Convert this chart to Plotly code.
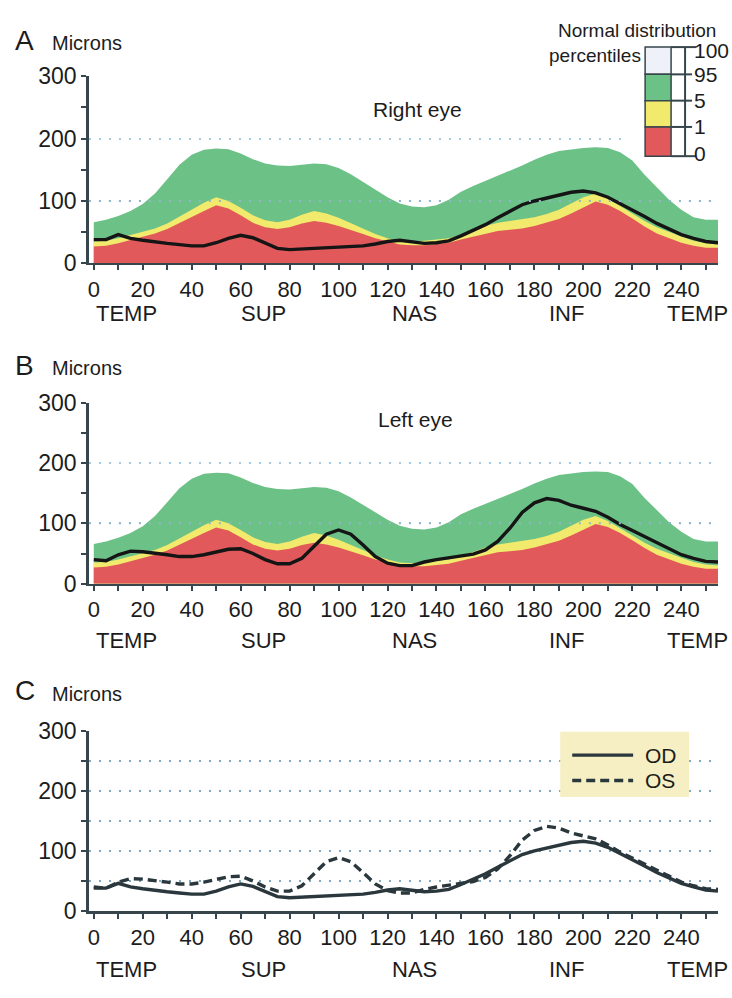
import plotly.graph_objects as go

W, H = 732, 998

# ---- data ----
x_deg = list(range(0, 256, 5))
p95 = [66, 70, 76, 84, 95, 112, 135, 158, 174, 182,
       184, 183, 176, 167, 160, 157, 156, 158, 160, 159,
       153, 143, 131, 118, 106, 96, 91, 90, 93, 102,
       115, 124, 132, 140, 148, 157, 166, 174, 180, 183,
       185, 186, 185, 178, 165, 142, 122, 102, 86, 74,
       70, 70]
p5 = [35, 36, 40, 45, 50, 56, 64, 75, 85, 97,
      106, 100, 89, 77, 69, 66, 70, 78, 84, 80,
      73, 64, 55, 47, 40, 35, 34, 36, 37, 40,
      45, 53, 60, 65, 68, 70, 74, 79, 86, 96,
      106, 112, 104, 92, 80, 68, 58, 50, 43, 36,
      32, 30]
p1 = [27, 28, 32, 37, 42, 48, 55, 65, 74, 84,
      93, 88, 77, 65, 58, 55, 58, 64, 68, 65,
      60, 54, 47, 40, 35, 30, 29, 29, 31, 33,
      38, 43, 48, 52, 54, 56, 60, 65, 71, 80,
      90, 99, 94, 84, 72, 59, 48, 40, 33, 28,
      25, 25]
od = [38, 38, 46, 40, 37, 34, 32, 30, 28, 28,
      33, 40, 45, 41, 32, 24, 22, 23, 25, 26,
      27, 28, 28, 31, 35, 37, 34, 32, 33, 36,
      44, 53, 62, 73, 84, 94, 100, 105, 110, 114,
      116, 113, 106, 96, 85, 75, 64, 55, 46, 40,
      35, 33]
os_ = [40, 38, 48, 54, 53, 51, 48, 45, 45, 48,
       53, 57, 58, 50, 40, 33, 33, 42, 62, 82,
       89, 82, 64, 45, 34, 30, 30, 36, 40, 43,
       46, 49, 56, 70, 92, 118, 134, 141, 138, 130,
       125, 120, 110, 98, 88, 78, 67, 57, 48, 42,
       37, 36]
sector_labels = ["TEMP", "SUP", "NAS", "INF", "TEMP"]
sector_pos = [13.5, 69.5, 131, 193, 246.5]
pct_labels = ["100", "95", "5", "1", "0"]
panel_titles = ["Right eye", "Left eye"]
legend_names = ["OD", "OS"]

GREEN = "#6cc187"
YELLOW = "#f2ea6c"
RED = "#e2595b"
AX = "#36464c"
TXT = "#1c1c1c"
GRID_AB = "#a9c9dc"
GRID_C = "#7fa9bf"
FONT = "Liberation Sans, Arial, sans-serif"


def px(x):
    return x / W


def py(y):
    return 1 - y / H


fig = go.Figure()

for i, (line_vals, name) in enumerate([(od, "OD"), (os_, "OS")]):
    xa = "x" if i == 0 else "x2"
    ya = "y" if i == 0 else "y2"
    for vals, col in [(p95, GREEN), (p5, YELLOW), (p1, RED)]:
        fig.add_trace(go.Scatter(x=x_deg, y=vals, xaxis=xa, yaxis=ya, mode="lines",
                                 fill="tozeroy", fillcolor=col, line=dict(width=0, color=col),
                                 showlegend=False, hoverinfo="skip"))
    fig.add_trace(go.Scatter(x=x_deg, y=line_vals, xaxis=xa, yaxis=ya, mode="lines",
                             line=dict(color="#151515", width=3.4), showlegend=False, name=name))

fig.add_trace(go.Scatter(x=x_deg, y=od, xaxis="x3", yaxis="y3", mode="lines",
                         line=dict(color="#2a383d", width=3.4), name=legend_names[0], showlegend=False))
fig.add_trace(go.Scatter(x=x_deg, y=os_, xaxis="x3", yaxis="y3", mode="lines",
                         line=dict(color="#2a383d", width=3.4, dash="9px,5px"), name=legend_names[1],
                         showlegend=False))

xdom = [88 / W, 718 / W]
panels_y = [(257, 65), (586, 400), (922, 737)]


def xaxis(anchor, lw=2):
    return dict(domain=xdom, range=[-2, 255], anchor=anchor, tick0=0, dtick=20,
                showline=True, linecolor=AX, linewidth=lw, ticks="outside", ticklen=5,
                tickwidth=2, tickcolor=AX, ticklabelstandoff=0, layer="above traces",
                minor=dict(tick0=0, dtick=10, ticks="outside", ticklen=5, tickwidth=2, tickcolor=AX),
                showgrid=False, zeroline=False, tickfont=dict(size=22, family=FONT, color=TXT),
                fixedrange=True)


def yaxis(anchor, dom, gridcol, minor_grid):
    d = dict(domain=dom, range=[0, 300], anchor=anchor, tick0=0, dtick=100,
             showline=True, linecolor=AX, linewidth=2.5, ticks="outside", ticklen=5,
             tickwidth=2, tickcolor=AX, layer="above traces",
             showgrid=True, gridcolor=gridcol, gridwidth=2, griddash="2px,8px",
             zeroline=False, tickfont=dict(size=23, family=FONT, color=TXT), fixedrange=True)
    m = dict(tick0=0, dtick=50, ticks="outside", ticklen=5, tickwidth=2, tickcolor=AX)
    if minor_grid:
        m.update(showgrid=True, gridcolor=gridcol, gridwidth=2, griddash="2px,8px")
    d["minor"] = m
    return d


lay = {}
names = [("xaxis", "yaxis", "x", "y"), ("xaxis2", "yaxis2", "x2", "y2"), ("xaxis3", "yaxis3", "x3", "y3")]
for k, (xn, yn, xr, yr) in enumerate(names):
    y0, y300 = panels_y[k]
    dom = [py(y0), py(y300)]
    lay[xn] = xaxis(yr, lw=3 if k == 2 else 2)
    lay[yn] = yaxis(xr, dom, GRID_C if k == 2 else GRID_AB, k == 2)

fig.update_layout(width=W, height=H, margin=dict(l=0, r=0, t=0, b=0),
                  paper_bgcolor="white", plot_bgcolor="white",
                  font=dict(family=FONT, color=TXT), showlegend=False, **lay)

ann = []
# panel letters and "Microns"
for letter, ycen in [("A", 28), ("B", 362), ("C", 696)]:
    ann.append(dict(text=letter, x=px(12), y=py(ycen), xref="paper", yref="paper",
                    xanchor="left", yanchor="middle", showarrow=False, font=dict(size=28)))
    ann.append(dict(text="Microns", x=px(49), y=py(ycen + 3), xref="paper", yref="paper",
                    xanchor="left", yanchor="middle", showarrow=False, font=dict(size=20)))
# panel titles
ann.append(dict(text=panel_titles[0], x=px(417), y=py(85), xref="paper", yref="paper",
                showarrow=False, font=dict(size=21)))
ann.append(dict(text=panel_titles[1], x=px(415), y=py(417), xref="paper", yref="paper",
                showarrow=False, font=dict(size=21)))
# sector labels
for ycen, xr in [(309, "x"), (644, "x2"), (982, "x3")]:
    for lab, pos in zip(sector_labels, sector_pos):
        ann.append(dict(text=lab, x=pos, y=py(ycen), xref=xr, yref="paper",
                        showarrow=False, font=dict(size=22), xanchor="center", yanchor="middle"))

shapes = []
# dotted 100-micron guide drawn over the normative bands (panels A, B)
for xr, yr in [("x", "y"), ("x2", "y2")]:
    shapes.append(dict(type="line", xref=xr + " domain", yref=yr, x0=0, x1=1, y0=100, y1=100,
                       line=dict(color="#8fb6cc", width=2, dash="2px,8px"), layer="above"))
# percentile legend (panel A)
shapes.append(dict(type="rect", xref="paper", yref="paper", x0=px(628), x1=px(732),
                   y0=py(140), y1=py(0), fillcolor="white", line=dict(width=0), layer="above"))
bx0, bx1 = 645, 671
edges = [35, 63, 90, 117, 147]
cols = ["#eef1f7", GREEN, YELLOW, RED]
for j in range(4):
    shapes.append(dict(type="rect", xref="paper", yref="paper", x0=px(bx0), x1=px(bx1),
                       y0=py(edges[j + 1]), y1=py(edges[j]), fillcolor=cols[j],
                       line=dict(color=AX, width=1.5), layer="above"))
shapes.append(dict(type="line", xref="paper", yref="paper", x0=px(685), x1=px(685),
                   y0=py(edges[0]), y1=py(edges[-1]), line=dict(color=AX, width=2), layer="above"))
for j, e in enumerate(edges):
    xe = 696 if j in (0, 4) else 692
    shapes.append(dict(type="line", xref="paper", yref="paper", x0=px(bx1), x1=px(xe),
                       y0=py(e), y1=py(e), line=dict(color=AX, width=2), layer="above"))
for lab, e in zip(pct_labels, [38, 63, 90, 117, 144]):
    ann.append(dict(text=lab, x=px(692), y=py(e), xref="paper", yref="paper", xanchor="left",
                    yanchor="middle", showarrow=False, font=dict(size=21)))
ann.append(dict(text="Normal distribution", x=px(718), y=py(18), xref="paper", yref="paper",
                xanchor="right", yanchor="middle", showarrow=False, font=dict(size=19)))
ann.append(dict(text="percentiles", x=px(643), y=py(44), xref="paper", yref="paper",
                xanchor="right", yanchor="middle", showarrow=False, font=dict(size=19)))

# OD / OS legend (panel C)
shapes.append(dict(type="rect", xref="paper", yref="paper", x0=px(560), x1=px(689),
                   y0=py(805), y1=py(738), fillcolor="#f6efc3", line=dict(width=0), layer="above"))
shapes.append(dict(type="line", xref="paper", yref="paper", x0=px(572), x1=px(633),
                   y0=py(762), y1=py(762), line=dict(color="#2a383d", width=3.4), layer="above"))
shapes.append(dict(type="line", xref="paper", yref="paper", x0=px(572), x1=px(633),
                   y0=py(788), y1=py(788), line=dict(color="#2a383d", width=3.4, dash="9px,5px"),
                   layer="above"))
for lab, e in zip(legend_names, [762, 788]):
    ann.append(dict(text=lab, x=px(643), y=py(e), xref="paper", yref="paper", xanchor="left",
                    yanchor="middle", showarrow=False, font=dict(size=21)))

fig.update_layout(annotations=ann, shapes=shapes)
fig.write_html("out.html", config={"displayModeBar": False},
               post_script="document.body.style.margin='0';document.body.style.overflow='hidden';")
